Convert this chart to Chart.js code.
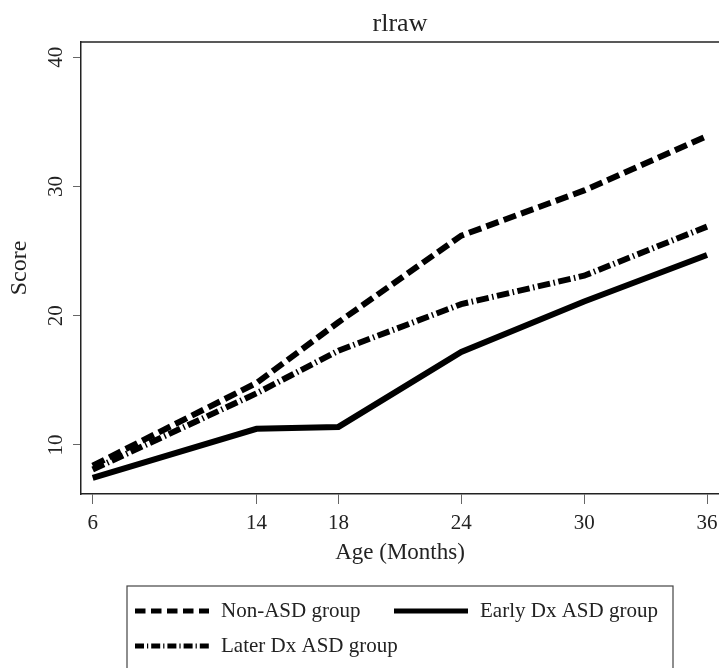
<!DOCTYPE html>
<html><head><meta charset="utf-8">
<script src="https://cdn.jsdelivr.net/npm/chart.js@4/dist/chart.umd.min.js"></script>
<style>html,body{margin:0;padding:0;background:#fff;overflow:hidden}canvas{display:block}</style>
</head><body>
<canvas id="c" width="719" height="668"></canvas>
<script>
const chartTitle = 'rlraw';
const xTitle = 'Age (Months)';
const yTitle = 'Score';
const ageMonths = [6, 14, 18, 24, 30, 36];
const nonAsd = [8.4, 14.8, 19.5, 26.2, 29.7, 33.9];
const earlyDx = [7.45, 11.25, 11.4, 17.2, 21.1, 24.7];
const laterDx = [8.1, 14.0, 17.3, 20.9, 23.1, 26.9];
const seriesNames = ['Non-ASD group', 'Early Dx ASD group', 'Later Dx ASD group'];
const xTicks = [6, 14, 18, 24, 30, 36];
const yTicks = [10, 20, 30, 40];

const FONT = 'Liberation Serif';
const INK = '#222';

function pts(vals) { return ageMonths.map((m, i) => ({ x: m, y: vals[i] })); }

const lineStyles = [
  { dash: [13, 5.5], legendDash: [10.5, 5.5] },
  { dash: [], legendDash: [] },
  { dash: [12.5, 3.5, 1.5, 3.5], legendDash: [9, 3, 1.2, 3] }
];
const seriesValues = [nonAsd, earlyDx, laterDx];

const datasets = seriesNames.map((name, i) => ({
  label: name,
  data: pts(seriesValues[i]),
  borderColor: '#000',
  backgroundColor: '#000',
  borderWidth: 6,
  borderDash: lineStyles[i].dash,
  borderCapStyle: 'butt',
  borderJoinStyle: 'miter',
  pointRadius: 0,
  pointHoverRadius: 0,
  tension: 0,
  fill: false
}));

const framePlugin = {
  id: 'frame',
  afterDraw(chart) {
    const { ctx, chartArea: a, scales: { y } } = chart;
    ctx.save();
    // title centred over the plot region
    ctx.fillStyle = INK;
    ctx.font = '26px "' + FONT + '"';
    ctx.textAlign = 'center';
    ctx.textBaseline = 'middle';
    ctx.fillText(chartTitle, (a.left + a.right) / 2, 24);
    // top line of plot region
    ctx.strokeStyle = INK;
    ctx.lineWidth = 1.5;
    ctx.beginPath();
    ctx.moveTo(a.left, a.top);
    ctx.lineTo(a.right, a.top);
    ctx.stroke();
    // rotated y tick labels
    ctx.font = '21px "' + FONT + '"';
    y.ticks.forEach(t => {
      const py = y.getPixelForValue(t.value);
      ctx.save();
      ctx.translate(56, py);
      ctx.rotate(-Math.PI / 2);
      ctx.fillText(String(t.value), 0, 0);
      ctx.restore();
    });
    // legend
    const box = { left: 127, top: 586, right: 673 };
    ctx.strokeStyle = '#444';
    ctx.lineWidth = 1.2;
    ctx.strokeRect(box.left, box.top, box.right - box.left, 120);
    const slots = [{ x: 135, y: 611 }, { x: 394, y: 611 }, { x: 135, y: 646 }];
    const sampleLen = 74;
    chart.data.datasets.forEach((ds, i) => {
      const s = slots[i];
      ctx.save();
      ctx.strokeStyle = '#000';
      ctx.lineWidth = 5;
      ctx.lineCap = 'butt';
      ctx.setLineDash(lineStyles[i].legendDash);
      ctx.beginPath();
      ctx.moveTo(s.x, s.y);
      ctx.lineTo(s.x + sampleLen, s.y);
      ctx.stroke();
      ctx.restore();
      ctx.fillStyle = INK;
      ctx.font = '21px "' + FONT + '"';
      ctx.textAlign = 'left';
      ctx.textBaseline = 'middle';
      ctx.fillText(ds.label, s.x + sampleLen + 12, s.y);
    });
    ctx.restore();
  }
};

new Chart(document.getElementById('c'), {
  type: 'line',
  data: { datasets },
  options: {
    responsive: false,
    animation: false,
    devicePixelRatio: 1,
    layout: { padding: { left: 0, right: 0, top: 42, bottom: 98 } },
    plugins: {
      legend: { display: false },
      tooltip: { enabled: false },
      title: { display: false }
    },
    scales: {
      x: {
        type: 'linear', min: 5.429, max: 36.586,
        afterBuildTicks: s => { s.ticks = xTicks.map(v => ({ value: v })); },
        afterFit: s => { s.height = 76; s.paddingLeft = 0; s.paddingRight = 0; },
        grid: { display: true, drawOnChartArea: false, drawTicks: true, tickLength: 10, color: '#666', lineWidth: 1 },
        border: { display: true, color: INK, width: 1.5 },
        ticks: { font: { family: FONT, size: 21 }, color: INK, padding: 6.7, maxRotation: 0, autoSkip: false, callback: v => String(v) },
        title: { display: true, text: xTitle, color: INK, font: { family: FONT, size: 23, lineHeight: 1.2 }, padding: { top: 0, bottom: 3 } }
      },
      y: {
        type: 'linear', min: 6.208, max: 41.184,
        afterBuildTicks: s => { s.ticks = yTicks.map(v => ({ value: v })); },
        afterFit: s => { s.width = 81; s.paddingTop = 0; s.paddingBottom = 0; },
        grid: { display: true, drawOnChartArea: false, drawTicks: true, tickLength: 8, color: '#666', lineWidth: 1 },
        border: { display: true, color: INK, width: 1.5 },
        ticks: { display: false },
        title: { display: true, text: yTitle, color: INK, font: { family: FONT, size: 24, lineHeight: 1.2 }, padding: { top: 5.8, bottom: 0 } }
      }
    }
  },
  plugins: [framePlugin]
});
</script>
</body></html>
